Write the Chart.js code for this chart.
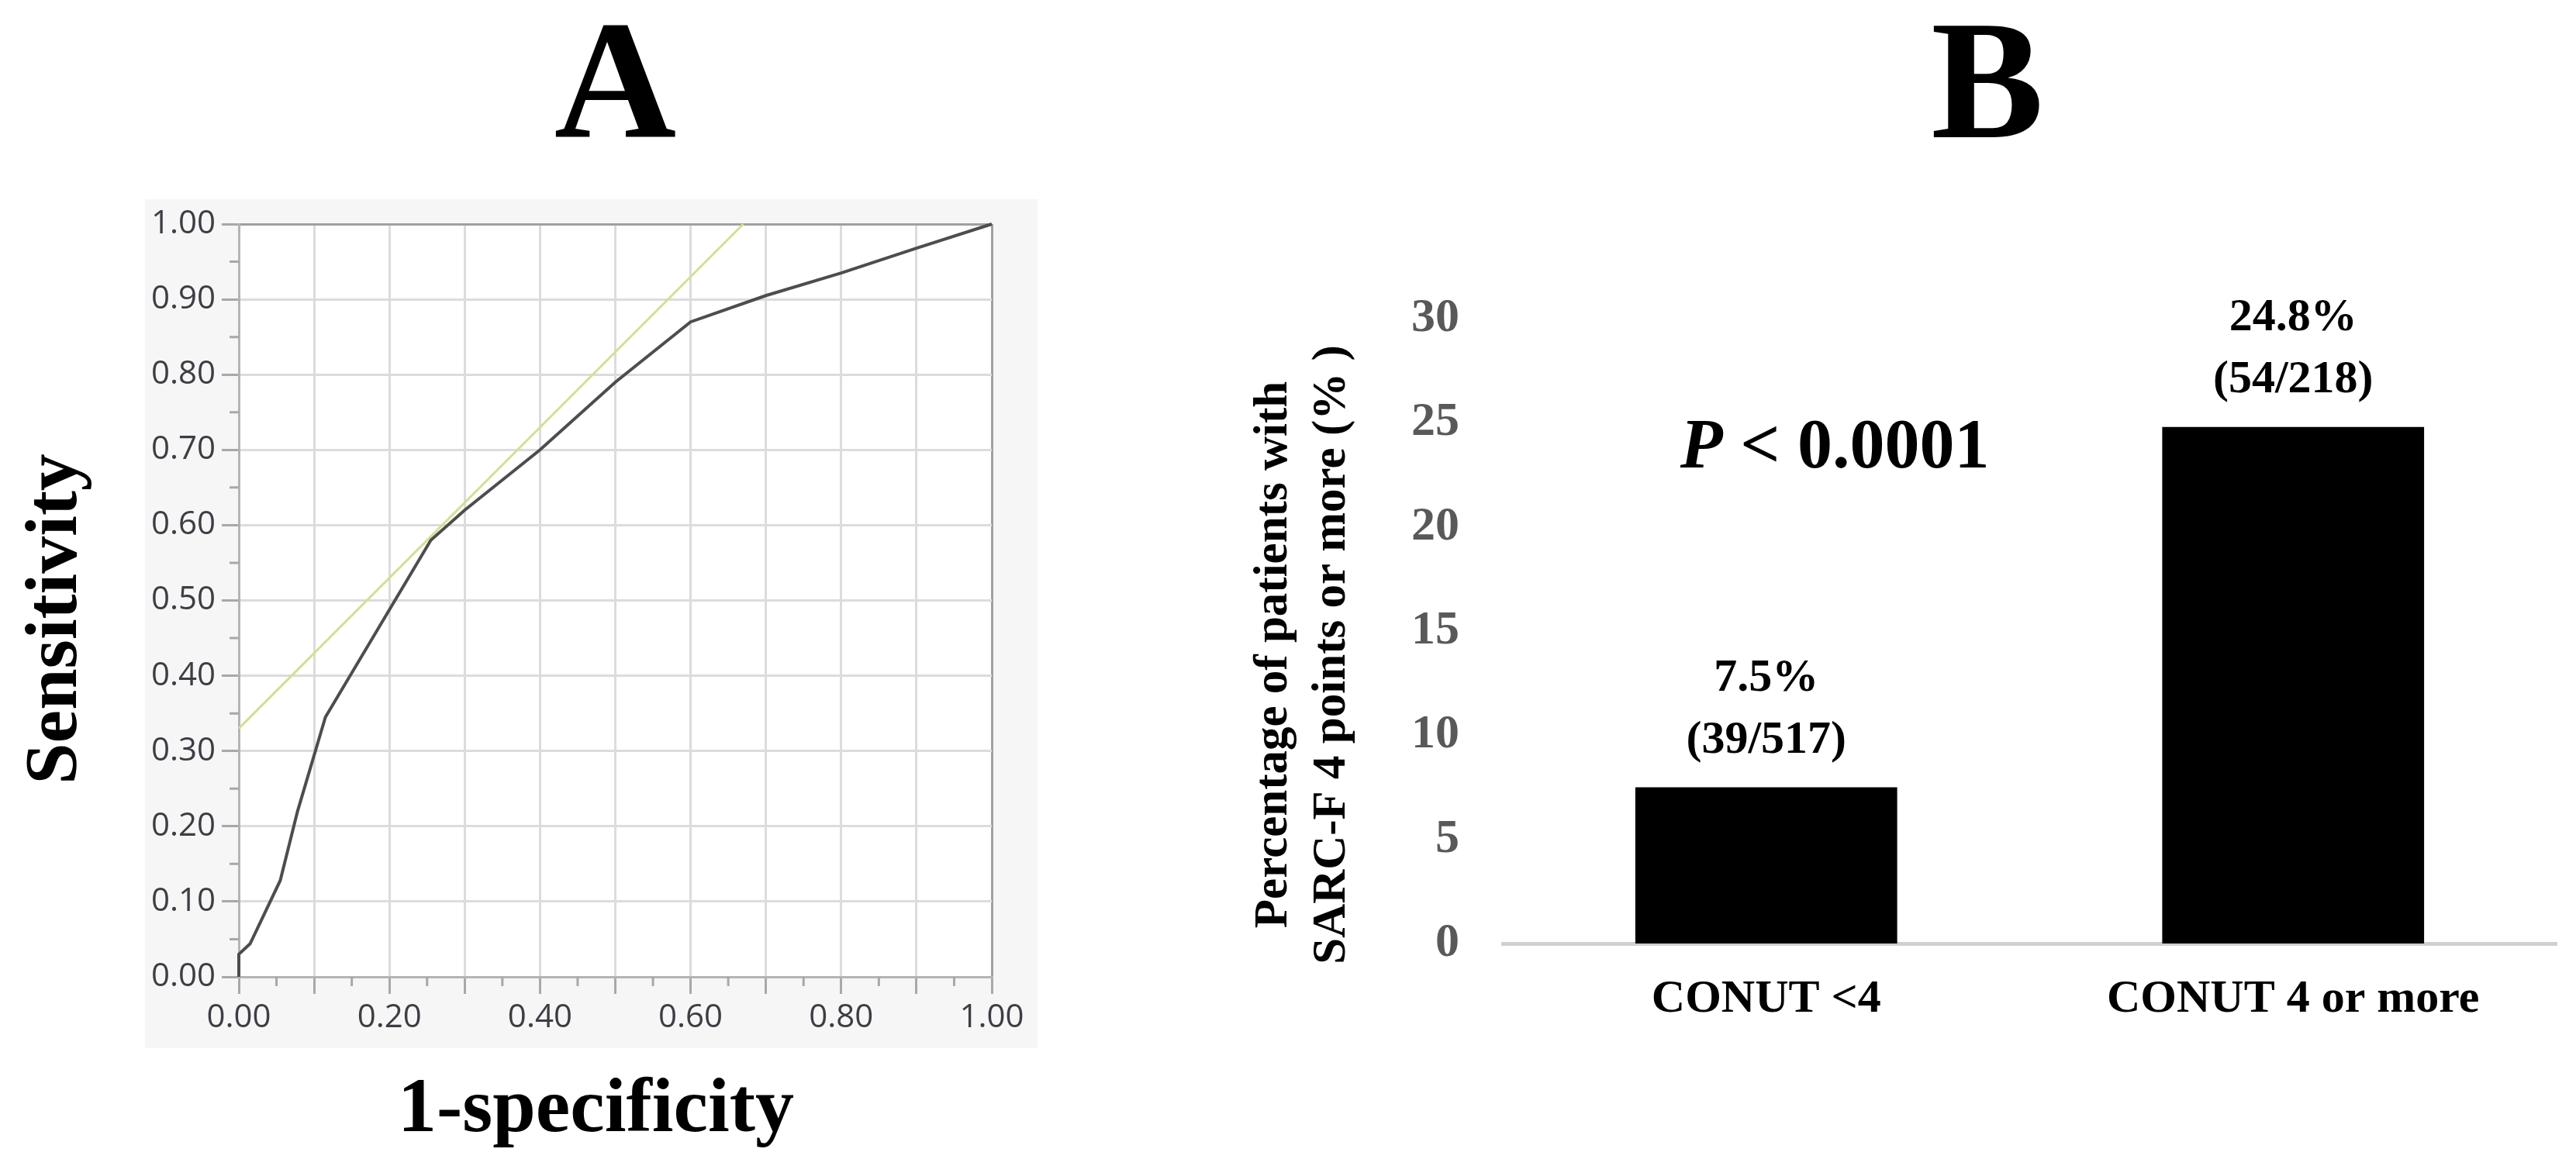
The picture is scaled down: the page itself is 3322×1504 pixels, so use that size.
<!DOCTYPE html>
<html>
<head>
<meta charset="utf-8">
<script src="https://cdn.jsdelivr.net/npm/chart.js@4"></script>
<style>
  body { margin: 0; background: #fff; }
  #wrap { position: relative; width: 3322px; height: 1504px; }
  canvas { position: absolute; top: 0; }
  #rocChart { left: 0; }
  #barChart { left: 1560px; }
</style>
</head>
<body>
<div id="wrap">
  <canvas id="rocChart" width="1400" height="1504"></canvas>
  <canvas id="barChart" width="1762" height="1504"></canvas>
</div>
<script>
// panel A - ROC curve (1-specificity vs sensitivity)
var rocFpr  = [0, 0, 0.015, 0.055, 0.078, 0.115, 0.255, 0.30, 0.40, 0.50, 0.60, 0.70, 0.80, 0.90, 1.00];
var rocSens = [0, 0.03, 0.044, 0.128, 0.22, 0.345, 0.58, 0.62, 0.70, 0.79, 0.87, 0.905, 0.935, 0.968, 1.00];
// tangent line at the cut-off
var tangentFpr  = [0, 0.67];
var tangentSens = [0.33, 1.00];

// panel B - SARC-F >= 4 by CONUT group
var groups = ['CONUT <4', 'CONUT 4 or more'];
var sarcfPct = [7.5, 24.8];
var sarcfCounts = ['(39/517)', '(54/218)'];
var pValueText = '< 0.0001';

var serif = "'Liberation Serif', 'Times New Roman', serif";
var sans = "'Open Sans', 'DejaVu Sans', sans-serif";
// trailing spaces nudge the centred titles off the axis centre like the original
var EN = '\u2002', EM = '\u2003';

function toPoints(xs, ys) {
  return xs.map(function (x, i) { return { x: x, y: ys[i] }; });
}

var panelA = {
  id: 'panelA',
  beforeDraw: function (chart) {
    var a = chart.chartArea, ctx = chart.ctx;
    ctx.save();
    ctx.fillStyle = '#f6f6f6';
    ctx.fillRect(a.left - 121, a.top - 32, a.width + 180, a.height + 124);
    ctx.fillStyle = '#fff';
    ctx.fillRect(a.left, a.top, a.width, a.height);
    ctx.restore();
  },
  beforeDatasetsDraw: function (chart) {
    // minor ticks every 0.05
    var a = chart.chartArea, ctx = chart.ctx, x = chart.scales.x, y = chart.scales.y;
    ctx.save();
    ctx.strokeStyle = '#a8a8a8';
    ctx.lineWidth = 3;
    ctx.beginPath();
    for (var v = 0.05; v < 1; v += 0.1) {
      var py = y.getPixelForValue(v), px = x.getPixelForValue(v);
      ctx.moveTo(a.left - 12, py); ctx.lineTo(a.left, py);
      ctx.moveTo(px, a.bottom); ctx.lineTo(px, a.bottom + 12);
    }
    ctx.stroke();
    ctx.restore();
  }
};

function gridColor(c) {
  return c.tick && Math.abs(c.tick.value - 1) < 1e-6 ? '#a0a0a0' : '#dcdcdc';
}

new Chart(document.getElementById('rocChart'), {
  type: 'scatter',
  data: {
    datasets: [{
      data: toPoints(rocFpr, rocSens),
      showLine: true,
      borderColor: '#4d4d4d',
      borderWidth: 4,
      pointRadius: 0,
      tension: 0,
      clip: 6
    }, {
      data: toPoints(tangentFpr, tangentSens),
      showLine: true,
      borderColor: '#d3e092',
      borderWidth: 3,
      pointRadius: 0,
      clip: 6
    }]
  },
  options: {
    responsive: false,
    animation: false,
    layout: { padding: { left: 0, top: 0, right: 121, bottom: 0 } },
    plugins: {
      legend: { display: false },
      tooltip: { enabled: false },
      title: {
        display: true, text: 'A', fullSize: false, color: '#000',
        font: { family: serif, size: 218, weight: 'bold', lineHeight: 1 },
        padding: { top: 12, bottom: 59 }
      }
    },
    scales: {
      x: {
        type: 'linear', min: 0, max: 1,
        afterFit: function (s) { s.height = 244; },
        grid: { color: gridColor, lineWidth: 3, tickLength: 22, tickColor: '#a8a8a8', tickWidth: 3 },
        border: { color: '#b4b4b4', width: 3 },
        ticks: {
          stepSize: 0.1, autoSkip: false, maxRotation: 0, padding: 6,
          color: '#3d3d45', font: { family: sans, size: 42 },
          callback: function (v) { return Math.round(v * 10) % 2 === 0 ? v.toFixed(2) : ''; }
        },
        title: {
          display: true, text: '1-specificity' + EN, color: '#000',
          font: { family: serif, size: 100, weight: 'bold', lineHeight: 1 },
          padding: { top: 0, bottom: 21 }
        }
      },
      y: {
        min: 0, max: 1,
        afterFit: function (s) { s.width = 308; },
        grid: { color: gridColor, lineWidth: 3, tickLength: 22, tickColor: '#a8a8a8', tickWidth: 3 },
        border: { color: '#b4b4b4', width: 3 },
        ticks: {
          stepSize: 0.1, autoSkip: false, padding: 8,
          color: '#3d3d45', font: { family: sans, size: 42 },
          callback: function (v) { return v.toFixed(2); }
        },
        title: {
          display: true, text: 'Sensitivity' + EN, color: '#000',
          font: { family: serif, size: 96, weight: 'bold', lineHeight: 1 },
          padding: { top: 25, bottom: 0 }
        }
      }
    }
  },
  plugins: [panelA]
});

var barLabels = {
  id: 'barLabels',
  afterDatasetsDraw: function (chart) {
    var ctx = chart.ctx, a = chart.chartArea, y = chart.scales.y;
    var meta = chart.getDatasetMeta(0);
    ctx.save();
    ctx.fillStyle = '#000';
    ctx.textAlign = 'center';
    ctx.textBaseline = 'middle';
    ctx.font = 'bold 60px ' + serif;
    meta.data.forEach(function (bar, i) {
      ctx.fillText(sarcfPct[i].toFixed(1) + '%', bar.x, bar.y - 140);
      ctx.fillText(sarcfCounts[i], bar.x, bar.y - 60);
    });
    // P value, italic P
    ctx.font = 'italic bold 90px ' + serif;
    var pW = ctx.measureText('P').width;
    ctx.font = 'bold 90px ' + serif;
    var restW = ctx.measureText(' ' + pValueText).width;
    var cx = a.left + a.width * 0.315;
    var by = y.getPixelForValue(22.85);
    var sx = cx - (pW + restW) / 2;
    ctx.textAlign = 'left';
    ctx.textBaseline = 'alphabetic';
    ctx.font = 'italic bold 90px ' + serif;
    ctx.fillText('P', sx, by);
    ctx.font = 'bold 90px ' + serif;
    ctx.fillText(' ' + pValueText, sx + pW, by);
    ctx.restore();
  }
};

new Chart(document.getElementById('barChart'), {
  type: 'bar',
  data: {
    labels: groups,
    datasets: [{
      data: sarcfPct,
      backgroundColor: '#000',
      barPercentage: 0.497,
      categoryPercentage: 1
    }]
  },
  options: {
    responsive: false,
    animation: false,
    layout: { padding: { left: 0, top: 0, right: 25, bottom: 0 } },
    plugins: {
      legend: { display: false },
      tooltip: { enabled: false },
      title: {
        display: true, text: 'B' + EN, fullSize: false, color: '#000',
        font: { family: serif, size: 218, weight: 'bold', lineHeight: 1 },
        padding: { top: 12, bottom: 181 }
      }
    },
    scales: {
      x: {
        z: 1,
        afterFit: function (s) { s.height = 287; },
        grid: { display: false, drawTicks: false },
        border: { color: '#d0d0d0', width: 5 },
        ticks: { color: '#000', font: { family: serif, size: 60, weight: 'bold' }, padding: 36 }
      },
      y: {
        min: 0, max: 30,
        afterFit: function (s) { s.width = 378; },
        grid: { display: false, drawTicks: false },
        border: { display: false },
        ticks: { stepSize: 5, color: '#595959', font: { family: serif, size: 62, weight: 'bold' }, padding: 56 },
        title: {
          display: true,
          text: ['Percentage of patients with' + EM, 'SARC-F 4 points or more (% )' + EM],
          color: '#000',
          font: { family: serif, size: 61, weight: 'bold', lineHeight: 1.23 },
          padding: { top: 46, bottom: 0 }
        }
      }
    }
  },
  plugins: [barLabels]
});
</script>
</body>
</html>
